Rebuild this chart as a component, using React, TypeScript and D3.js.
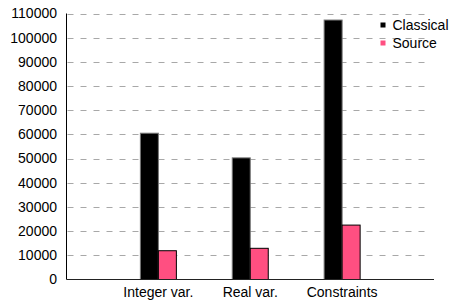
import { scaleLinear, scalePoint, range } from "d3";
import React from "react";

const categories = ["Integer var.", "Real var.", "Constraints"];
const classical = [60500, 50300, 107300];
const source = [11900, 12900, 22500];
const yTicks = range(0, 110001, 10000);
const seriesNames = ["Classical", "Source"];
const seriesColors = ["#000000", "#ff4f81"];

const W = 452;
const H = 302;
const left = 66.5;
const right = 434;
const top = 13.5;
const bottom = 279.5;
const barW = 18;

const App: React.FC = () => {
  const x = scalePoint<string>()
    .domain(["_a", ...categories, "_b"])
    .range([left, right]);
  const y = scaleLinear().domain([0, 110000]).range([bottom, top]);

  return (
    <svg
      width={W}
      height={H}
      style={{ position: "absolute", left: 0, top: 0, fontFamily: "Liberation Sans, Arial, sans-serif" }}
    >
      <rect width={W} height={H} fill="#fff" />
      {yTicks.slice(1).map((t) => (
        <line
          key={t}
          x1={left + 1}
          x2={right - 6}
          y1={Math.round(y(t)) + 0.5}
          y2={Math.round(y(t)) + 0.5}
          stroke="#a8a8a8"
          strokeDasharray="6,7"
        />
      ))}
      {yTicks.map((t) => (
        <text
          key={t}
          x={57}
          y={y(t)}
          dy="0.35em"
          textAnchor="end"
          fontSize={14}
          fill="#000"
        >
          {t}
        </text>
      ))}
      {categories.map((c, i) => {
        const cx = x(c)!;
        return (
          <g key={c}>
            <rect
              x={cx - barW}
              y={y(classical[i])}
              width={barW}
              height={bottom - y(classical[i])}
              fill={seriesColors[0]}
              stroke="#777"
              strokeWidth={1}
            />
            <rect
              x={cx}
              y={y(source[i])}
              width={barW}
              height={bottom - y(source[i])}
              fill={seriesColors[1]}
              stroke="#000"
              strokeWidth={1}
            />
            <text x={cx} y={297} textAnchor="middle" fontSize={14} fill="#000">
              {c}
            </text>
          </g>
        );
      })}
      <line x1={left} x2={left} y1={top} y2={bottom} stroke="#000" />
      <line x1={left} x2={right} y1={bottom} y2={bottom} stroke="#222" />
      {seriesNames.map((s, i) => (
        <g key={s} transform={`translate(380.5, ${22.5 + i * 18})`}>
          <rect width={5} height={5} fill={seriesColors[i]} />
          <text x={12} y={2.5} dy="0.35em" fontSize={14} fill="#000">
            {s}
          </text>
        </g>
      ))}
    </svg>
  );
};

export default App;
